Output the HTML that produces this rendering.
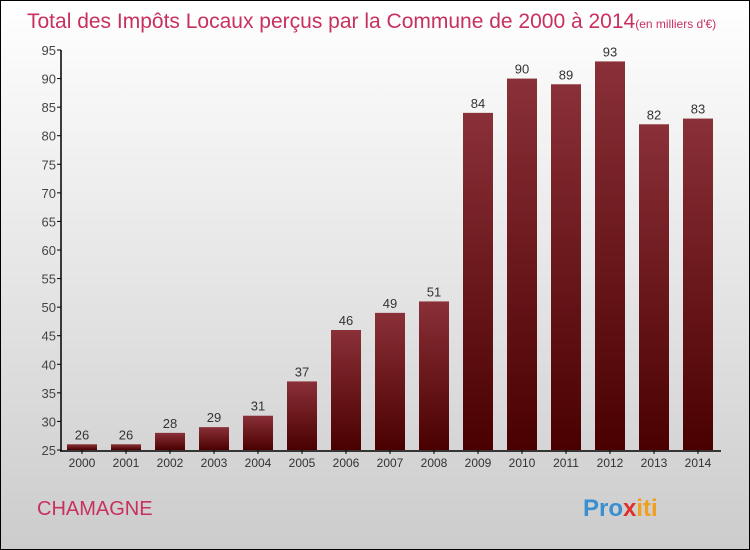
<!DOCTYPE html>
<html><head><meta charset="utf-8"><style>
body{margin:0}
#wrap{position:relative;width:748px;height:548px;border:1px solid #000;background:linear-gradient(#fff,#ccc);font-family:"Liberation Sans",sans-serif;overflow:hidden}
</style></head><body>
<div id="wrap">
<svg width="748" height="548" id="chart">
<defs><linearGradient id="bg" x1="0" y1="0" x2="0" y2="1"><stop offset="0" stop-color="#8a3038"/><stop offset="1" stop-color="#4a0000"/></linearGradient></defs>
<text x="26" y="27" font-size="21" fill="#c8305e">Total des Impôts Locaux perçus par la Commune de 2000 à 2014<tspan font-size="12">(en milliers d'€)</tspan></text>
<text x="36" y="514" font-size="20" fill="#c8305e">CHAMAGNE</text>
<text x="582" y="515" font-size="24" font-weight="bold" fill="#3a8fd0">Pro<tspan fill="#e0302a">x</tspan><tspan fill="#f0a020">iti</tspan></text>
<g id="g"></g>
</svg>
</div>
<script>
const years=["2000","2001","2002","2003","2004","2005","2006","2007","2008","2009","2010","2011","2012","2013","2014"];
const values=[26,26,28,29,31,37,46,49,51,84,90,89,93,82,83];
const yTicks=[25,30,35,40,45,50,55,60,65,70,75,80,85,90,95];
const NS="http://www.w3.org/2000/svg",g=document.getElementById('g');
const y=v=>449-(v-25)*400/70, x=i=>81+44*i;
function mk(t,a,txt){const e=document.createElementNS(NS,t);for(const k in a)e.setAttribute(k,a[k]);if(txt!==undefined)e.textContent=txt;g.appendChild(e);return e;}
yTicks.forEach(t=>{
const l=mk('line',{x1:56,x2:60,y1:y(t),y2:y(t),stroke:'#000'});


const tx=mk('text',{x:55,y:y(t)+5,'text-anchor':'end','font-size':13,fill:'#444'},t);


});
values.forEach((v,i)=>{
const r=mk('rect',{x:x(i)-15,y:y(v),width:30,height:y(25)-y(v),fill:'url(#bg)'});


const vl=mk('text',{x:x(i),y:y(v)-5,'text-anchor':'middle','font-size':13,fill:'#333'},v);


const tk=mk('line',{x1:x(i),x2:x(i),y1:449,y2:453,stroke:'#000'});


const xl=mk('text',{x:x(i),y:466,'text-anchor':'middle','font-size':12,fill:'#333'},years[i]);


});
const ya=mk('line',{x1:60,x2:60,y1:49,y2:450,stroke:'#000','stroke-width':1.5});


const xa=mk('line',{x1:59,x2:720,y1:450,y2:450,stroke:'#000','stroke-width':1.5});


</script>
</body></html>
